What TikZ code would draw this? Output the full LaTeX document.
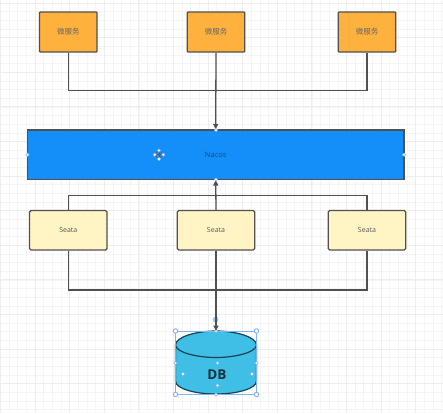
\documentclass[tikz,border=0pt]{standalone}
\usepackage{fontspec}
\setmainfont{Open Sans}
\newfontfamily\cjk{Noto Sans CJK SC}
\usetikzlibrary{arrows.meta}
\definecolor{gridc}{HTML}{F5F5F6}
\definecolor{gridm}{HTML}{EEEEF0}
\definecolor{orangec}{HTML}{FFB13D}
\definecolor{bluec}{HTML}{148EF8}
\definecolor{yellowc}{HTML}{FFF5C4}
\definecolor{dbc}{HTML}{3FBFE6}
\definecolor{edgec}{HTML}{505050}
\definecolor{handlec}{HTML}{7FB2EE}
\definecolor{nacostext}{HTML}{1B4A80}
\tikzset{
 ms/.style={draw=edgec,line width=1.3pt,fill=orangec,rounded corners=0.8pt,minimum width=57.5pt,minimum height=40pt,inner sep=0pt,font=\cjk\fontsize{7.5}{8}\selectfont,text=black!60},
 se/.style={draw=edgec,line width=1.3pt,fill=yellowc,rounded corners=1.5pt,minimum width=77.5pt,minimum height=39.5pt,inner sep=0pt,font=\fontsize{7}{8}\selectfont,text=black!65},
 nacosbox/.style={draw=edgec,line width=1.3pt,fill=bluec,minimum width=376.5pt,minimum height=49.5pt,inner sep=0pt,font=\fontsize{7.5}{8}\selectfont,text=nacostext},
 conn/.style={draw=edgec,line width=1.3pt},
 arr/.style={conn,-{Triangle[length=5.5pt,width=5pt]}},
 hcirc/.style={circle,draw=handlec,fill=white,line width=0.5pt,inner sep=0pt,minimum size=3.4pt},
 hsq/.style={circle,draw=handlec,fill=white,line width=0.9pt,inner sep=0pt,minimum size=4.5pt},
}
\begin{document}
\begin{tikzpicture}[x=1pt,y=-1pt]
\useasboundingbox (0,0) rectangle (443,413);
\fill[white] (0,0) rectangle (443,413);
\foreach \i in {0,...,52} {\draw[gridc,line width=0.5pt] ({0.4+\i*8.65},0) -- ({0.4+\i*8.65},413);}
\foreach \i in {0,...,48} {\draw[gridc,line width=0.5pt] (0,{3+\i*8.65}) -- (443,{3+\i*8.65});}
\foreach \i in {0,...,13} {\draw[gridm,line width=0.7pt] ({0.4+\i*34.6},0) -- ({0.4+\i*34.6},413);}
\foreach \i in {0,...,12} {\draw[gridm,line width=0.7pt] (0,{3+\i*34.6}) -- (443,{3+\i*34.6});}
\node[ms] (m1) at (68.3,32) {微服务};
\node[ms] (m2) at (216,32) {微服务};
\node[ms] (m3) at (367,32) {微服务};
\node[nacosbox] (nacos) at (215.7,154.7) {Nacos};
\node[se] (s1) at (68.3,230.3) {Seata};
\node[se] (s2) at (216,230.3) {Seata};
\node[se] (s3) at (367,230.3) {Seata};
\coordinate (dbtop) at (216,331);
\coordinate (dbleft) at (175.5,345);
\coordinate (dbright) at (256.5,345);
\coordinate (dbbot) at (216,394);
% connectors
\draw[conn] (m1.south) |- (216,90.5) -| (m3.south);
\draw[arr] (m2.south) -- (nacos.north);
\draw[conn] (s1.north) |- (216,195.5) -| (s3.north);
\draw[arr] (s2.north) -- (nacos.south);
\draw[conn] (s1.south) |- (216,290) -| (s3.south);
% database
\draw[draw=black!65!dbc,line width=1.2pt,fill=dbc] (dbleft) -- (175.5,381)
  .. controls (175.5,389) and (196,394) .. (dbbot)
  .. controls (236,394) and (256.5,389) .. (256.5,381) -- (dbright)
  .. controls (256.5,337) and (236,331) .. (dbtop)
  .. controls (196,331) and (175.5,337) .. (dbleft) -- cycle;
\draw[draw=black!65!dbc,line width=1.2pt] (dbleft)
  .. controls (175.5,352) and (196,357.5) .. (216,357.5)
  .. controls (236,357.5) and (256.5,352) .. (dbright);
\node[font=\bfseries\fontsize{13.5}{14}\selectfont,text=black!75!dbc] (dblabel) at (217,374.5) {DB};
% selection frame
\draw[handlec,line width=0.4pt] (175.5,331) rectangle (256.5,394.5);
\foreach \p in {(175.5,331),(256.5,331),(175.5,394.5),(256.5,394.5)} {\node[hsq] at \p {};}
\foreach \p in {(216,331),(216,394.5),(175.5,363),(256.5,363),(217.5,363),(183,374),(252,374),(217.5,385.5)} {\node[hcirc] at \p {};}
\node[circle,fill=handlec!70,inner sep=0pt,minimum size=6pt] (rot) at (215.5,319.5) {};
\draw[arr] (s2.south) -- (dbtop);
% nacos handles
\foreach \p in {(216,130),(216,179.5),(27.5,154.7),(404,154.7)} {\node[hcirc] at \p {};}
% move cursor
\draw[black!65,line width=1pt] (153.5,154.7) -- (164.5,154.7) (159,149.2) -- (159,160.2);
\node[circle,draw=black!60,line width=0.8pt,inner sep=0pt,minimum size=6.5pt] (cur) at (159,154.7) {};
\foreach \p in {(159,150.5),(159,159),(154.7,154.7),(163.3,154.7)} {\node[hcirc] at \p {};}
\end{tikzpicture}
\end{document}
